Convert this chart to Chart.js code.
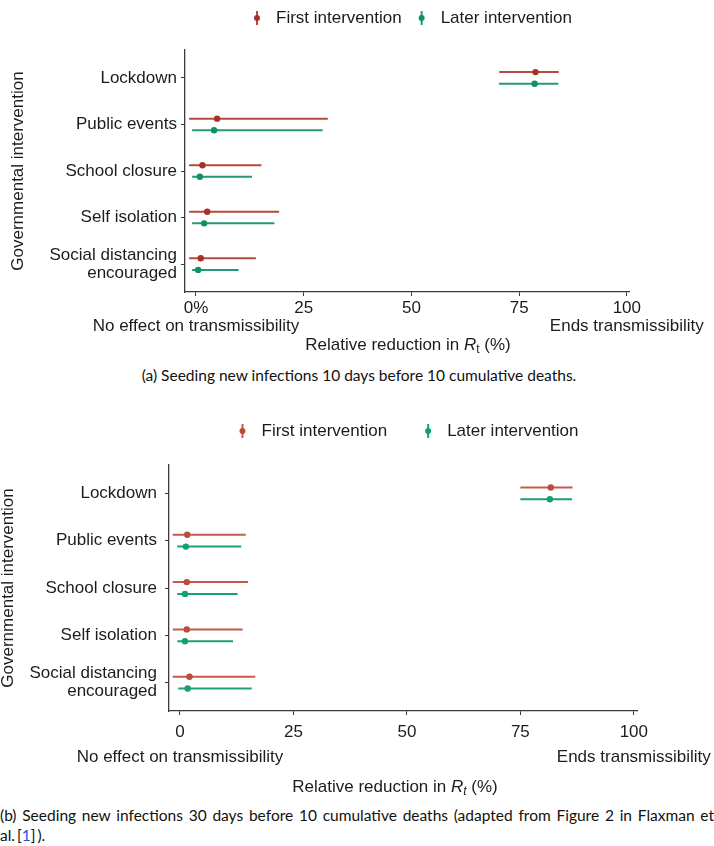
<!DOCTYPE html>
<html>
<head>
<meta charset="utf-8">
<script src="https://cdn.jsdelivr.net/npm/chart.js@4.4.0/dist/chart.umd.min.js"></script>
<style>
  html, body { margin: 0; padding: 0; background: #fff; }
  body { width: 714px; height: 846px; position: relative; overflow: hidden; }
  canvas { position: absolute; left: 0; }
  .cap { position: absolute; left: 0; width: 714px; font-family: Lato, 'DejaVu Sans', sans-serif;
         font-size: 15.5px; line-height: 18px; color: #111; white-space: nowrap; }
  .ref { color: #1f4fd8; }
</style>
</head>
<body>
<canvas id="chartA" width="714" height="360" style="top:0px"></canvas>
<div class="cap" style="top:366px; left:2px; text-align:center;">(a) Seeding new infections 10 days before 10 cumulative deaths.</div>
<canvas id="chartB" width="714" height="405" style="top:395px"></canvas>
<div class="cap" style="top:806px; text-align:justify; text-align-last:justify;">(b) Seeding new infections 30 days before 10 cumulative deaths (adapted from Figure 2 in Flaxman et</div>
<div class="cap" style="top:826px;">al.&thinsp;[<span class="ref">1</span>]&thinsp;).</div>

<script>
// categories and series
const categories = ['Lockdown', 'Public events', 'School closure', 'Self isolation', ['Social distancing', 'encouraged']];
const seriesNames = ['First intervention', 'Later intervention'];
const xTickValues = [0, 25, 50, 75, 100];
const aXTickLabels = [['0%', 'No effect on transmissibility'], '25', '50', '75', ['100', 'Ends transmissibility']];
const bXTickLabels = [['0', 'No effect on transmissibility'], '25', '50', '75', ['100', 'Ends transmissibility']];

// (a) seeding 10 days before
const aFirstLo  = [70.4, -1.6, -1.6, -1.6, -1.6];
const aFirstHi  = [84.2, 30.6, 15.2, 19.3, 13.9];
const aFirstMid = [78.8, 4.9, 1.5, 2.6, 1.1];
const aLaterLo  = [70.3, -0.9, -0.9, -0.9, -0.9];
const aLaterHi  = [84.1, 29.4, 13.0, 18.2, 9.9];
const aLaterMid = [78.6, 4.2, 0.9, 1.9, 0.5];

// (b) seeding 30 days before
const bFirstLo  = [75.0, -1.6, -1.6, -1.6, -1.6];
const bFirstHi  = [86.5, 14.5, 15.0, 13.8, 16.6];
const bFirstMid = [81.7, 1.6, 1.5, 1.5, 2.1];
const bLaterLo  = [75.0, -0.6, -0.6, -0.6, -0.4];
const bLaterHi  = [86.4, 13.5, 12.7, 11.7, 15.8];
const bLaterMid = [81.5, 1.3, 1.1, 1.1, 1.7];

const FONT = "'Liberation Sans', Arial, sans-serif";
const TEXT = '#1c1c1c';
Chart.defaults.font.family = FONT;
Chart.defaults.color = TEXT;

// dots on the intervals, legend and the x axis title (mixed italics)
const extras = {
  id: 'extras',
  afterDatasetsDraw(chart, args, o) {
    const ctx = chart.ctx;
    const xs = chart.scales.x;
    chart.data.datasets.forEach((ds, i) => {
      chart.getDatasetMeta(i).data.forEach((bar, j) => {
        ctx.beginPath();
        ctx.arc(xs.getPixelForValue(ds.mids[j]), bar.y, 3.2, 0, Math.PI * 2);
        ctx.fillStyle = ds.dotColor;
        ctx.fill();
      });
    });
  },
  afterDraw(chart, args, o) {
    const ctx = chart.ctx;
    const area = chart.chartArea;
    const cx = (area.left + area.right) / 2;
    ctx.save();
    ctx.textBaseline = 'middle';
    ctx.textAlign = 'left';

    // legend
    ctx.font = '17px ' + FONT;
    const dsets = chart.data.datasets;
    const widths = dsets.map(d => ctx.measureText(d.label).width);
    let total = 5;
    widths.forEach((w, i) => { total += 19 + w + (i < widths.length - 1 ? o.legendGap : 0); });
    let x = cx + 5 - total / 2 + 5;
    dsets.forEach((d, i) => {
      ctx.strokeStyle = d.backgroundColor;
      ctx.lineWidth = 2;
      ctx.beginPath();
      ctx.moveTo(x, o.legendY - 7);
      ctx.lineTo(x, o.legendY + 7);
      ctx.stroke();
      ctx.beginPath();
      ctx.arc(x, o.legendY, 3, 0, Math.PI * 2);
      ctx.fillStyle = d.dotColor;
      ctx.fill();
      ctx.fillStyle = TEXT;
      ctx.fillText(d.label, x + 19, o.legendY);
      x += 19 + widths[i] + o.legendGap;
    });

    // x axis title: Relative reduction in R_t (%)
    const parts = [
      { t: 'Relative reduction in ', f: '17px ' + FONT, dy: 0 },
      { t: 'R', f: 'italic 17px ' + FONT, dy: 0 },
      { t: 't', f: (o.subItalic ? 'italic ' : '') + '12px ' + FONT, dy: 5 },
      { t: ' (%)', f: '17px ' + FONT, dy: 0 }
    ];
    let tw = 0;
    parts.forEach(p => { ctx.font = p.f; p.w = ctx.measureText(p.t).width; tw += p.w; });
    let tx = cx + o.titleShift - tw / 2;
    ctx.fillStyle = TEXT;
    parts.forEach(p => { ctx.font = p.f; ctx.fillText(p.t, tx, o.titleY + p.dy); tx += p.w; });
    ctx.restore();
  }
};

function makePanel(id, p) {
  const axisColor = '#3a3a3a';
  return new Chart(document.getElementById(id), {
    type: 'bar',
    data: {
      datasets: seriesNames.map((name, k) => ({
        label: name,
        data: categories.map((c, i) => ({ y: i, x: [p.lo[k][i], p.hi[k][i]] })),
        mids: p.mid[k],
        backgroundColor: p.lineColors[k],
        dotColor: p.dotColors[k],
        categoryPercentage: 0.5,
        barPercentage: 0.18,
        maxBarThickness: 2,
        borderWidth: 0
      }))
    },
    options: {
      indexAxis: 'y',
      responsive: false,
      animation: false,
      events: [],
      layout: { padding: { top: p.padTop, right: p.padRight, left: 0, bottom: 0 } },
      scales: {
        x: {
          type: 'linear',
          min: p.xMin,
          max: p.xMax,
          offset: false,
          afterBuildTicks: s => { s.ticks = xTickValues.map(v => ({ value: v })); },
          afterFit: s => { s.height = p.xHeight; s.paddingLeft = 0; s.paddingRight = 0; },
          grid: { drawOnChartArea: false, offset: false, tickLength: 4, color: axisColor },
          border: { display: true, color: axisColor, width: 1.3 },
          ticks: {
            autoSkip: false, maxRotation: 0, minRotation: 0,
            padding: p.xTickPad, color: TEXT,
            font: { size: 17, lineHeight: p.xTickLH },
            callback: (v, i) => p.xTickLabels[i]
          }
        },
        y: {
          type: 'linear',
          reverse: true,
          min: -0.6,
          max: 4.6,
          offset: false,
          afterBuildTicks: s => { s.ticks = categories.map((c, i) => ({ value: i })); },
          afterFit: s => { s.width = p.yWidth; s.paddingTop = 0; s.paddingBottom = 0; },
          grid: { drawOnChartArea: false, offset: false, tickLength: p.yTickLen, color: axisColor },
          border: { display: true, color: axisColor, width: 1.3 },
          ticks: {
            padding: p.yTickPad, color: TEXT,
            font: { size: 17, lineHeight: 1.05 },
            callback: v => categories[v]
          },
          title: {
            display: true,
            text: 'Governmental intervention',
            color: TEXT,
            font: { size: 17, lineHeight: p.yTitleLH },
            padding: { top: p.yTitlePad, bottom: 0 }
          }
        }
      },
      plugins: {
        legend: { display: false },
        tooltip: { enabled: false },
        extras: { legendY: p.legendY, legendGap: p.legendGap, titleY: p.titleY, titleShift: p.titleShift, subItalic: p.subItalic }
      }
    },
    plugins: [extras]
  });
}

makePanel('chartA', {
  lo: [aFirstLo, aLaterLo], hi: [aFirstHi, aLaterHi], mid: [aFirstMid, aLaterMid],
  lineColors: ['#b8493e', '#23997a'], dotColors: ['#a8322a', '#0e925f'],
  xMin: -2.55, xMax: 100.5, xTickLabels: aXTickLabels, xTickLH: 1.1, xTickPad: 2.5,
  padTop: 50, padRight: 85, xHeight: 68, yWidth: 185,
  yTickLen: 4, yTickPad: 4, yTitleLH: 1.2, yTitlePad: 8,
  legendY: 18, legendGap: 20, titleY: 345, titleShift: 1, subItalic: false
});

makePanel('chartB', {
  lo: [bFirstLo, bLaterLo], hi: [bFirstHi, bLaterHi], mid: [bFirstMid, bLaterMid],
  lineColors: ['#c45a4b', '#1b9f7a'], dotColors: ['#bf4a3a', '#12a070'],
  xMin: -2.42, xMax: 100.7, xTickLabels: bXTickLabels, xTickLH: 1.47, xTickPad: 4.5,
  padTop: 70, padRight: 77, xHeight: 89, yWidth: 169,
  yTickLen: 4, yTickPad: 8, yTitleLH: 1.0, yTitlePad: 0,
  legendY: 36, legendGap: 41, titleY: 392, titleShift: -8, subItalic: true
});
</script>
</body>
</html>
